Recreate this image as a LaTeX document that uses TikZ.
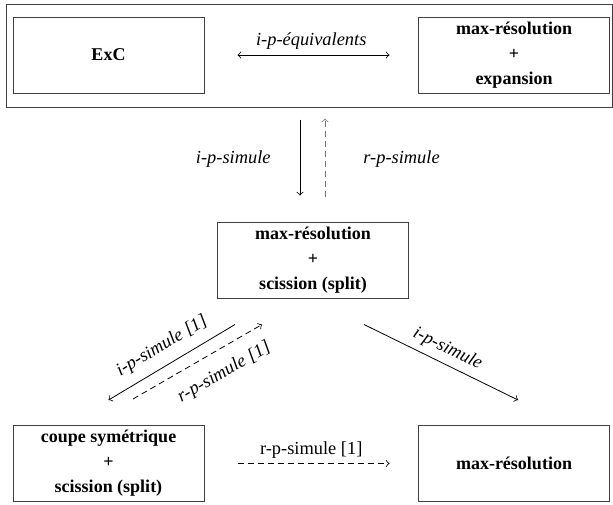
\documentclass[tikz,border=0pt]{standalone}
\usepackage{fontspec}
\setmainfont{Liberation Serif}
\usetikzlibrary{calc}
\tikzset{
  bx/.style={draw=black!75, line width=0.5pt, minimum width=95.5pt, minimum height=38pt,
    inner sep=0pt, align=center, font=\fontsize{9}{12.5}\selectfont\bfseries},
  lab/.style={font=\fontsize{9.2}{11}\selectfont\itshape, inner sep=1.5pt},
  arr/.style={->, line width=0.4pt},
  darr/.style={->, line width=0.4pt, dash pattern=on 3pt off 2pt}
}
\begin{document}
\begin{tikzpicture}[x=0.5pt,y=-0.5pt]
 \useasboundingbox (0,0) rectangle (613,504);
 \node[draw=black!75, line width=0.5pt, minimum width=303.25pt, minimum height=51.5pt] (top) at (309.25,55.5) {};
 \node[bx] (exc) at (108.5,55) {ExC};
 \node[bx] (exp) at (514,55) {max-résolution\\+\\expansion};
 \node[bx] (mid) at (313,260) {max-résolution\\+\\scission (split)};
 \node[bx] (bl) at (108.5,463.5) {coupe symétrique\\+\\scission (split)};
 \node[bx] (br) at (514,463.5) {max-résolution};
 \draw[arr, <->, shorten <=16.5pt, shorten >=14.25pt] (exc) -- (exp)
   node[lab, midway, above=1pt] {i-p-équivalents};
 \draw[arr, shorten <=6pt, shorten >=13pt] ([xshift=-6.5pt]mid.north |- top.south) -- ([xshift=-6.5pt]mid.north)
   node[lab, pos=0.45, left=13pt] {i-p-simule};
 \draw[darr, black!55, shorten <=12.5pt, shorten >=5.5pt] ([xshift=6pt]mid.north) -- ([xshift=6pt]mid.north |- top.south)
   node[lab, black, pos=0.55, right=17.5pt] {r-p-simule};
 \draw[arr] ($(mid.south west)+(18,26)$) -- ($(bl.north)+(0,-25)$)
   node[lab, midway, sloped, above=3.5pt] {i-p-simule [1]};
 \draw[darr] ($(bl.north)+(24.5,-26)$) -- ($(mid.south west)+(45,26)$)
   node[lab, pos=0.62, sloped, below=5.5pt] {r-p-simule [1]};
 \draw[arr] ($(mid.south east)+(-45,26)$) -- ($(br.north)+(4,-25)$)
   node[lab, midway, sloped, above=1.5pt] {i-p-simule};
 \draw[darr, shorten <=16.5pt, shorten >=14.25pt] (bl) -- (br)
   node[lab, font=\fontsize{9.2}{11}\selectfont\upshape, midway, above=1pt] {r-p-simule [1]};
\end{tikzpicture}
\end{document}
